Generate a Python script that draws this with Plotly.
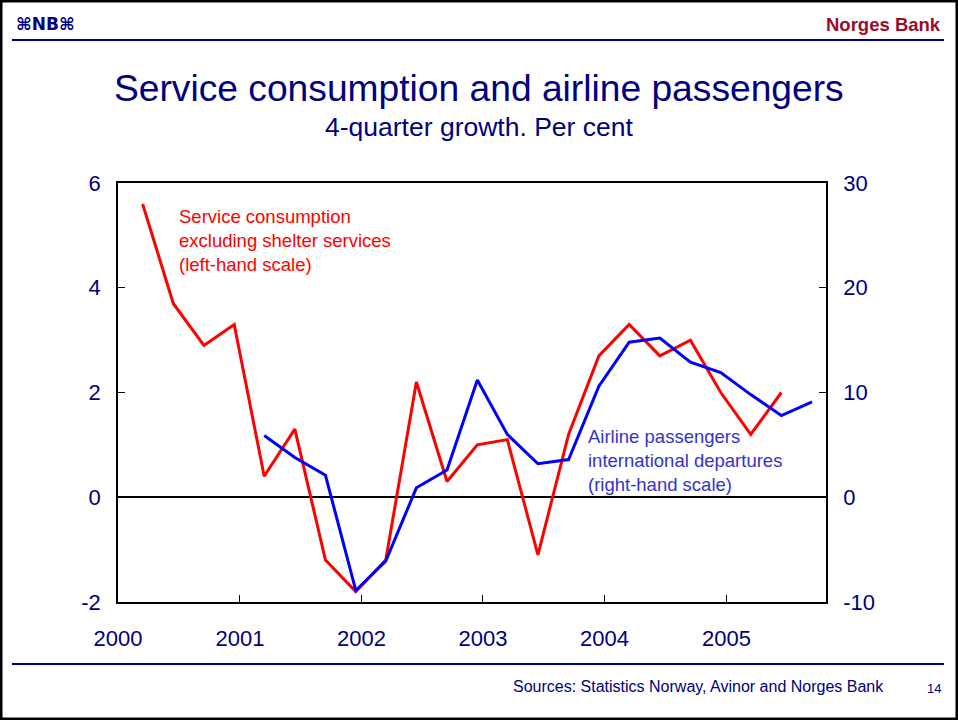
import plotly.graph_objects as go

# ---- data ----
quarters = ["2000Q1", "2000Q2", "2000Q3", "2000Q4",
            "2001Q1", "2001Q2", "2001Q3", "2001Q4",
            "2002Q1", "2002Q2", "2002Q3", "2002Q4",
            "2003Q1", "2003Q2", "2003Q3", "2003Q4",
            "2004Q1", "2004Q2", "2004Q3", "2004Q4",
            "2005Q1", "2005Q2", "2005Q3"]
service_quarters = quarters[:22]
service_values = [5.6, 3.7, 2.9, 3.3, 0.4, 1.3, -1.2, -1.8, -1.2, 2.2, 0.3, 1.0,
                  1.1, -1.1, 1.2, 2.7, 3.3, 2.7, 3.0, 2.0, 1.2, 2.0]
airline_quarters = quarters[4:]
airline_values = [5.9, 3.8, 2.1, -8.9, -6.1, 0.9, 2.6, 11.2, 6.0, 3.2, 3.6, 10.6,
                  14.8, 15.2, 12.9, 11.9, 9.8, 7.8, 9.1]
year_labels = ["2000", "2001", "2002", "2003", "2004", "2005"]
left_ticks = [-2, 0, 2, 4, 6]
right_ticks = [-10, 0, 10, 20, 30]


def q_to_date(q):
    y, n = q.split("Q")
    return f"{y}-{3 * int(n):02d}-15"


NAVY = "#000080"
FONT = "Liberation Sans, Arial, sans-serif"

W, H = 958, 720
L, R, T, B = 118, 826, 183, 602


def px(x):
    return (x - L) / (R - L)


def py(y):
    return (B - y) / (B - T)


fig = go.Figure()
fig.add_trace(go.Scatter(
    x=[q_to_date(q) for q in service_quarters], y=service_values,
    mode="lines", line=dict(color="#FF0000", width=3), yaxis="y",
    showlegend=False, hoverinfo="skip"))
fig.add_trace(go.Scatter(
    x=[q_to_date(q) for q in airline_quarters], y=airline_values,
    mode="lines", line=dict(color="#0000FF", width=3), yaxis="y2",
    showlegend=False, hoverinfo="skip"))

fig.update_layout(
    width=W, height=H,
    margin=dict(l=L, r=W - R, t=T, b=H - B, pad=0),
    paper_bgcolor="white", plot_bgcolor="white",
    font=dict(family=FONT, color=NAVY),
    xaxis=dict(
        type="date", range=["2000-01-01", "2005-10-27"],
        tickvals=[f"{y}-01-01" for y in year_labels], ticktext=year_labels,
        ticks="inside", ticklen=7, tickcolor="black", tickwidth=1,
        showline=True, linecolor="black", linewidth=1.5, mirror=True,
        showgrid=False, zeroline=False,
        tickfont=dict(size=22, color=NAVY, family=FONT),
        ticklabelstandoff=16),
    yaxis=dict(
        range=[-2, 6], tickvals=left_ticks, ticktext=[str(v) for v in left_ticks],
        ticks="inside", ticklen=7, tickcolor="black", tickwidth=1,
        showline=True, linecolor="black", linewidth=1.5,
        showgrid=False, zeroline=True, zerolinecolor="black", zerolinewidth=1.5,
        tickfont=dict(size=22, color=NAVY, family=FONT),
        ticklabelstandoff=11),
    yaxis2=dict(
        range=[-10, 30], tickvals=right_ticks, ticktext=[str(v) for v in right_ticks],
        overlaying="y", side="right",
        ticks="inside", ticklen=7, tickcolor="black", tickwidth=1,
        showline=True, linecolor="black", linewidth=1.5,
        showgrid=False, zeroline=False,
        tickfont=dict(size=22, color=NAVY, family=FONT),
        ticklabelstandoff=11),
)

annotations = [
    dict(x=px(479), y=py(88), text="Service consumption and airline passengers",
         font=dict(size=37.2, color=NAVY), xanchor="center", yanchor="middle"),
    dict(x=px(479), y=py(127), text="4-quarter growth. Per cent",
         font=dict(size=26.5, color=NAVY), xanchor="center", yanchor="middle"),
    dict(x=px(177), y=py(204), text="Service consumption<br>excluding shelter services<br>(left-hand scale)",
         font=dict(size=18.5, color="#FF0000"), xanchor="left", yanchor="top", align="left"),
    dict(x=px(586), y=py(424), text="Airline passengers<br>international departures<br>(right-hand scale)",
         font=dict(size=18.5, color="#3333CC"), xanchor="left", yanchor="top", align="left"),
    dict(x=px(943), y=py(24), text="<b>Norges Bank</b>",
         font=dict(size=18.5, color="#9B0B2B"), xanchor="right", yanchor="middle"),
    dict(x=px(14), y=py(24), text="<b>⌘NB⌘</b>",
         font=dict(size=17, color=NAVY, family="DejaVu Sans"), xanchor="left", yanchor="middle"),
    dict(x=px(886), y=py(686), text="Sources: Statistics Norway, Avinor and Norges Bank",
         font=dict(size=16, color=NAVY), xanchor="right", yanchor="middle"),
    dict(x=px(943), y=py(688), text="14",
         font=dict(size=13, color=NAVY), xanchor="right", yanchor="middle"),
]
for a in annotations:
    a.update(xref="paper", yref="paper", showarrow=False)
fig.update_layout(annotations=annotations)

shapes = [
    dict(type="line", x0=px(12), x1=px(944), y0=py(40), y1=py(40),
         line=dict(color=NAVY, width=2)),
    dict(type="line", x0=px(12), x1=px(944), y0=py(664), y1=py(664),
         line=dict(color=NAVY, width=2)),
    dict(type="rect", x0=px(1), x1=px(957), y0=py(1), y1=py(719),
         line=dict(color="black", width=3)),
]
for s in shapes:
    s.update(xref="paper", yref="paper", layer="above")
fig.update_layout(shapes=shapes)

fig.write_html("out.html", config={"displayModeBar": False},
               post_script="document.body.style.margin='0';document.body.style.overflow='hidden';")
